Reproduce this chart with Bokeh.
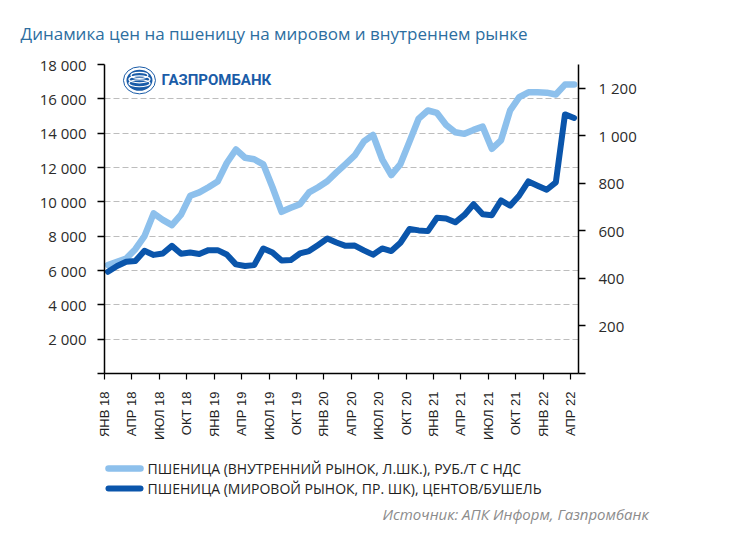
from bokeh.plotting import figure
from bokeh.models import Range1d, LinearAxis, FixedTicker, Label, Title
from bokeh.layouts import column
from bokeh.embed import file_html
from bokeh.resources import INLINE
import math

# ---- data ----
months = list(range(52))  # Jan 2018 .. Apr 2022
domestic = [6320, 6510, 6700, 7240, 8000, 9330, 8950, 8640, 9250, 10350,
            10550, 10850, 11180, 12260, 13050, 12570, 12480, 12180, 10850, 9420,
            9650, 9860, 10550, 10850, 11200, 11720, 12200, 12700, 13520, 13900,
            12480, 11560, 12200, 13520, 14850, 15320, 15180, 14480, 14050, 13960,
            14190, 14380, 13090, 13580, 15330, 16100, 16380, 16380, 16360, 16250,
            16830, 16830]
world = [428, 452, 470, 473, 516, 499, 505, 537, 504, 509,
         503, 519, 519, 501, 459, 452, 456, 526, 509, 475,
         477, 505, 515, 541, 568, 551, 537, 538, 518, 500,
         526, 515, 550, 608, 602, 599, 655, 652, 636, 667,
         712, 670, 666, 728, 706, 749, 808, 790, 773, 804,
         1090, 1075]
tick_labels = ["ЯНВ 18", "АПР 18", "ИЮЛ 18", "ОКТ 18",
               "ЯНВ 19", "АПР 19", "ИЮЛ 19", "ОКТ 19",
               "ЯНВ 20", "АПР 20", "ИЮЛ 20", "ОКТ 20",
               "ЯНВ 21", "АПР 21", "ИЮЛ 21", "ОКТ 21",
               "ЯНВ 22", "АПР 22"]
left_ticks = [0, 2000, 4000, 6000, 8000, 10000, 12000, 14000, 16000, 18000]
right_ticks = [0, 200, 400, 600, 800, 1000, 1200]
title_text = "Динамика цен на пшеницу на мировом и внутреннем рынке"
legend_labels = ["ПШЕНИЦА (ВНУТРЕННИЙ РЫНОК, Л.ШК.), РУБ./Т С НДС",
                 "ПШЕНИЦА (МИРОВОЙ РЫНОК, ПР. ШК), ЦЕНТОВ/БУШЕЛЬ"]
source_text = "Источник: АПК Информ, Газпромбанк"
logo_text = "ГАЗПРОМБАНК"

LIGHT = "#8dc0ec"
DARK = "#0a55ab"
FONT = "Open Sans"
W = 718
BL, BR = 104, 140   # side borders (frame spans 104..578)


def fmt(v):
    return "" if v == 0 else f"{v:,}".replace(",", " ")


# ---------------- main chart ----------------
MAIN_H = 442
p = figure(width=W, height=MAIN_H, output_backend="svg", toolbar_location=None,
           x_range=Range1d(-0.375, 51.48), y_range=Range1d(0, 18000),
           min_border_left=BL, min_border_right=BR,
           min_border_top=64, min_border_bottom=MAIN_H - 64 - 312)
p.extra_y_ranges = {"right": Range1d(0, 1300)}
p.outline_line_color = None

p.title.text = title_text
p.title.align = "left"
p.title.offset = -84
p.title.text_font = FONT
p.title.text_font_size = "17px"
p.title.text_font_style = "normal"
p.title.text_color = "#2d6e9f"
p.title.vertical_align = "middle"
p.title.standoff = 37

p.xgrid.visible = False
p.ygrid.ticker = FixedTicker(ticks=left_ticks[1:])
p.ygrid.grid_line_color = "#bdbdbd"
p.ygrid.grid_line_dash = "6 3"
p.ygrid.grid_line_width = 1


def style_axis(a, size="15px", standoff=9):
    a.major_tick_in = 0
    a.minor_tick_out = 0
    a.minor_tick_in = 0
    a.axis_line_color = "black"
    a.axis_line_width = 1.5
    a.major_tick_line_color = "black"
    a.major_tick_line_width = 1.5
    a.major_label_text_font = FONT
    a.major_label_text_font_size = size
    a.major_label_text_color = "#2b2b2b"
    a.major_label_standoff = standoff


ya = p.yaxis[0]
ya.ticker = FixedTicker(ticks=left_ticks)
ya.major_label_overrides = {t: fmt(t) for t in left_ticks}
ya.major_tick_out = 7
style_axis(ya, "15px", 11)

ra = LinearAxis(y_range_name="right")
ra.ticker = FixedTicker(ticks=right_ticks)
ra.major_label_overrides = {t: fmt(t) for t in right_ticks}
ra.major_tick_out = 7
style_axis(ra, "15px", 13)
p.add_layout(ra, "right")

xa = p.xaxis[0]
xt = [3 * k - 0.375 for k in range(len(tick_labels))]
xa.ticker = FixedTicker(ticks=xt)
xa.major_label_overrides = {t: lab for t, lab in zip(xt, tick_labels)}
xa.major_label_orientation = math.pi / 2
xa.major_tick_out = 6
style_axis(xa, "13px", 12)
xa.major_tick_line_width = 1.2
xa.major_label_text_font = "Liberation Sans"
xa.major_label_text_color = "#1e1e1e"

p.line(months, domestic, line_color=LIGHT, line_width=6.5,
       line_join="round", line_cap="round")
p.line(months, world, line_color=DARK, line_width=6,
       line_join="round", line_cap="round", y_range_name="right")

# logo
LOGO = "#1a5ca8"
lx, ly = 3.45, 17077
p.ellipse(x=[lx], y=[ly], width=32, height=27, width_units="screen",
          height_units="screen", fill_color=None, line_color=LOGO, line_width=1)
p.ellipse(x=[lx], y=[ly], width=26, height=21, width_units="screen",
          height_units="screen", fill_color=LOGO, line_color=None)
for dy, w, h in [(-170, 21, 7), (60, 21, 7), (290, 17, 6)]:
    p.ellipse(x=[lx], y=[ly + dy], width=w, height=h, width_units="screen",
              height_units="screen", fill_color=None, line_color="white",
              line_width=1.2)
p.add_layout(Label(x=57, y=294, x_units="screen", y_units="screen",
                   text=logo_text, text_font="Roboto", text_font_size="15px",
                   text_font_style="bold", text_color=LOGO,
                   text_baseline="middle", text_align="left"))

# ---------------- footer: legend + source ----------------
FOOT_H = 539 - MAIN_H
FOOT_FRAME = 58
foot = figure(width=W, height=FOOT_H, output_backend="svg", toolbar_location=None,
              x_range=Range1d(BL, W - BR),
              y_range=Range1d(MAIN_H + FOOT_FRAME, MAIN_H),
              x_axis_type=None, y_axis_type=None,
              min_border_left=BL, min_border_right=BR,
              min_border_top=0, min_border_bottom=FOOT_H - FOOT_FRAME)
foot.grid.visible = False
foot.outline_line_color = None
for i, (lab, col, lw) in enumerate(zip(legend_labels, [LIGHT, DARK], [6.5, 6])):
    yy = 468 + 20 * i
    foot.line(x=[108, 140], y=[yy, yy], line_color=col, line_width=lw,
              line_cap="round")
    foot.add_layout(Label(x=147, y=yy, text=lab, text_font=FONT,
                          text_font_size="14px", text_color="#1e1e1e",
                          text_baseline="middle", text_align="left"))

src = Title(text=source_text, align="left", offset=278, text_font=FONT,
            text_font_size="15px", text_font_style="italic",
            text_color="#8c8c8c", standoff=6, vertical_align="top")
foot.add_layout(src, "below")

layout = column(p, foot, spacing=0)
open("out.html", "w").write(file_html(layout, INLINE))
